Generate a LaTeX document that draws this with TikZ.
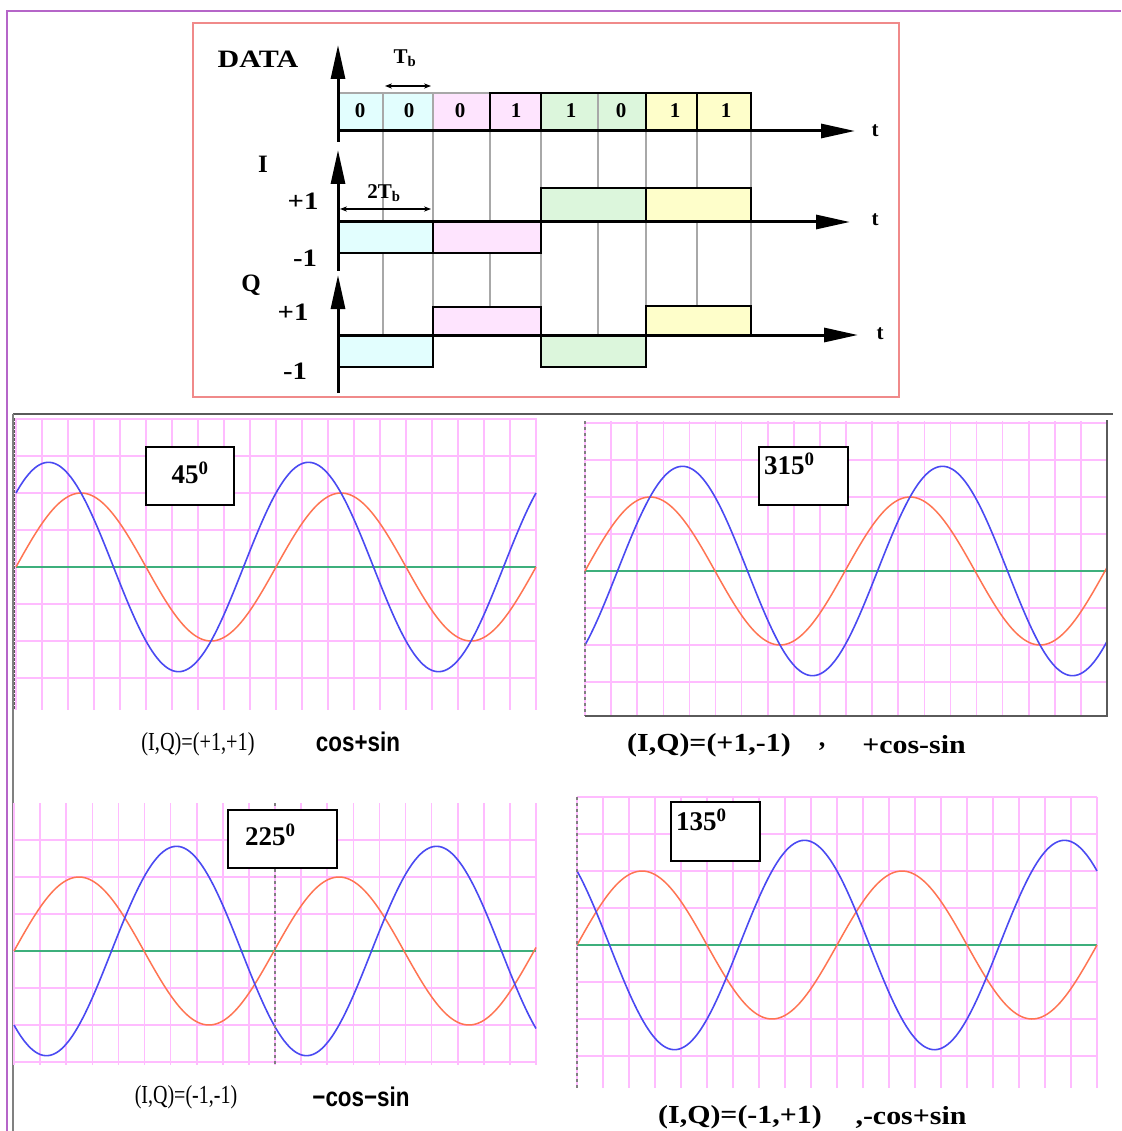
\documentclass[tikz,border=0pt]{standalone}
\usepackage{fontspec}
\setmainfont{Liberation Serif}
\setsansfont{Liberation Sans}
\usepackage{graphicx}
\usetikzlibrary{arrows.meta}
\definecolor{FrameViolet}{HTML}{B565C8}
\definecolor{BoxRed}{HTML}{F08A8A}
\definecolor{BitCyan}{HTML}{E2FEFE}
\definecolor{BitPink}{HTML}{FEE4FE}
\definecolor{BitGreen}{HTML}{DCF6DC}
\definecolor{BitYellow}{HTML}{FEFECA}
\definecolor{GridPink}{HTML}{FFBCFF}
\definecolor{WaveBlue}{HTML}{4A4AF2}
\definecolor{WaveOrange}{HTML}{FF7452}
\definecolor{WaveAxis}{HTML}{3DAF7C}
\definecolor{FrameGray}{HTML}{5A5A5A}
\definecolor{TickGray}{HTML}{A8A8A8}

\begin{document}
\begin{tikzpicture}[x=1pt,y=-1pt,>=Stealth,
  axis/.style={line width=3pt,-{Triangle[length=34pt,width=14pt]}},
  sig/.style={draw=black,line width=2pt},
  tick/.style={TickGray,line width=1.3pt},
  grd/.style={GridPink,line width=1.6pt},
  lbl/.style={font=\bfseries\fontsize{25}{25}\selectfont,inner sep=0pt},
  bit/.style={font=\bfseries\fontsize{21}{21}\selectfont,inner sep=0pt},
  degbox/.style={draw=black,line width=1.5pt,fill=white,inner sep=0pt},
  deg/.style={font=\bfseries\fontsize{27}{27}\selectfont,inner sep=0pt},
  captxt/.style={font=\fontsize{26}{26}\selectfont,inner sep=0pt},
  capbf/.style={font=\bfseries\fontsize{26}{26}\selectfont,inner sep=0pt},
  capsf/.style={font=\sffamily\bfseries\fontsize{27}{27}\selectfont,inner sep=0pt}]
  \fill[white] (0,0) rectangle (1121,1131);
  \useasboundingbox (0,0) rectangle (1121,1131);
  \draw[FrameViolet,line width=2.5pt] (7,1131) -- (7,11) -- (1121,11);
  \draw[BoxRed,line width=2pt] (193,23) rectangle (899,397);

  % bit cells
  \foreach \xa/\xb/\c in {338/383/BitCyan,383/433/BitCyan,433/490/BitPink,490/541/BitPink,
                          541/598/BitGreen,598/646/BitGreen,646/697/BitYellow,697/751/BitYellow}
    \fill[\c] (\xa,93) rectangle (\xb,131);
  \draw[tick] (338,93) -- (490,93);
  \foreach \xg in {383,433,490,541,598,646,697,751}
    \draw[tick] (\xg,93) -- (\xg,335);

  % I and Q levels
  \draw[sig,fill=BitCyan] (338,222) rectangle (433,253);
  \draw[sig,fill=BitPink] (433,222) rectangle (541,253);
  \draw[sig,fill=BitGreen] (541,188) rectangle (646,222);
  \draw[sig,fill=BitYellow] (646,188) rectangle (751,222);
  \draw[sig,fill=BitCyan] (338,335) rectangle (433,367);
  \draw[sig,fill=BitPink] (433,307) rectangle (541,335);
  \draw[sig,fill=BitGreen] (541,335) rectangle (646,367);
  \draw[sig,fill=BitYellow] (646,306) rectangle (751,335);
  \draw[sig] (490,131) -- (490,93) -- (751,93) -- (751,131);
  \foreach \xg in {541,646,697}
    \draw[sig] (\xg,93) -- (\xg,131);

  % axes
  \coordinate (dataO) at (338,131);
  \coordinate (dataTop) at (338,45);
  \coordinate (dataEnd) at (855,131);
  \coordinate (iO) at (338,222);
  \coordinate (iTop) at (338,150);
  \coordinate (iEnd) at (850,222);
  \coordinate (qO) at (338,335);
  \coordinate (qTop) at (338,275);
  \coordinate (qEnd) at (858,335);
  \draw[axis] (338,142) -- (dataTop);
  \draw[axis] (dataO) -- (dataEnd);
  \draw[axis] (338,271) -- (iTop);
  \draw[axis] (iO) -- (iEnd);
  \draw[axis] (338,393) -- (qTop);
  \draw[axis] (qO) -- (qEnd);

  \coordinate (tbL) at (385,86);
  \coordinate (tbR) at (431,86);
  \coordinate (ttbL) at (340,209);
  \coordinate (ttbR) at (431,209);
  \draw[{Stealth[length=7pt]}-{Stealth[length=7pt]},line width=1.3pt] (tbL) -- (tbR);
  \draw[{Stealth[length=7pt]}-{Stealth[length=7pt]},line width=1.3pt] (ttbL) -- (ttbR);

  \node[lbl] (datalab) at (258,59) {\scalebox{1.2}[1]{DATA}};
  \node[lbl,font=\bfseries\fontsize{21}{21}\selectfont] (tblab) at (405,58) {T\textsubscript{b}};
  \node[lbl,font=\bfseries\fontsize{21}{21}\selectfont] (ttblab) at (384,193) {2T\textsubscript{b}};
  \node[lbl] (ilab) at (263,164) {I};
  \node[lbl] (qlab) at (251,285) {Q};
  \node[lbl] (ip) at (303,201) {\scalebox{1.15}[1]{+1}};
  \node[lbl] (im) at (305,258) {\scalebox{1.15}[1]{-1}};
  \node[lbl] (qp) at (293,312) {\scalebox{1.15}[1]{+1}};
  \node[lbl] (qm) at (295,371) {\scalebox{1.15}[1]{-1}};
  \node[bit] (tdata) at (875,131) {t};
  \node[bit] (ti) at (875,220) {t};
  \node[bit] (tq) at (880,334) {t};
  \foreach \xc/\b [count=\n] in {360/0,409/0,460/0,516/1,571/1,621/0,675/1,726/1}
    \node[bit] (bit\n) at (\xc,111) {\b};

  % four carrier plots
  \draw[FrameGray,line width=2.5pt] (13,414) -- (1113,414);
  \draw[gray,line width=1.5pt] (13,414) -- (13,1131);
  \draw[FrameGray,line width=2pt,dash pattern=on 3pt off 1pt] (15,418) -- (15,710);
  \foreach \px/\pw/\ptop/\pax/\pbot/\kmin/\ph in
      {16/520/418/567/710/-4/45, 585/522/421/571/716/-4/315,
       14/522/803/951/1065/-3/225, 577/520/797/945/1088/-4/135}{
    \foreach \i in {0,...,20}
      \draw[grd] ({\px+\pw*\i/20},\ptop) -- ({\px+\pw*\i/20},\pbot);
    \foreach \k in {\kmin,...,3}
      \draw[grd] (\px,{\pax+37*\k}) -- ({\px+\pw},{\pax+37*\k});
    \draw[WaveAxis,line width=2pt] (\px,\pax) -- ({\px+\pw},\pax);
    \draw[WaveOrange,line width=1.5pt] plot[domain=0:\pw,samples=200,smooth]
      ({\px+\x},{\pax-74*sin(1.3846*\x)});
    \draw[WaveBlue,line width=1.6pt] plot[domain=0:\pw,samples=200,smooth]
      ({\px+\x},{\pax-104.7*sin(1.3846*\x+\ph)});
  }
  \draw[gray,line width=1.3pt,dashed] (585,421) -- (585,716);
  \draw[FrameGray,line width=2.5pt] (585,716) -- (1107,716) -- (1107,420);
  \draw[gray,line width=1.3pt,dashed] (275,803) -- (275,1065);
  \draw[gray,line width=1.3pt,dashed] (577,797) -- (577,1088);

  \node[degbox,minimum width=88pt,minimum height=58pt] (box45) at (190,476) {};
  \node[deg] (deg45) at (190,473) {45\textsuperscript{0}};
  \node[degbox,minimum width=89pt,minimum height=58pt] (box315) at (803.5,476) {};
  \node[deg,anchor=north west] (deg315) at (764,453) {315\textsuperscript{0}};
  \node[degbox,minimum width=109pt,minimum height=58pt] (box225) at (282.5,839) {};
  \node[deg,anchor=north west] (deg225) at (245,824) {225\textsuperscript{0}};
  \node[degbox,minimum width=89pt,minimum height=59pt] (box135) at (715.5,831.5) {};
  \node[deg,anchor=north west] (deg135) at (676,809) {135\textsuperscript{0}};

  \node[captxt] (cap45a) at (198,744) {\scalebox{0.78}[1]{(I,Q)=(+1,+1)}};
  \node[capsf] (cap45b) at (358,742) {\scalebox{0.83}[1]{cos+sin}};
  \node[capbf] (cap315a) at (709,745) {\scalebox{1.15}[1]{(I,Q)=(+1,-1)}};
  \node[capbf] (cap315b) at (822,747) {,};
  \node[capbf] (cap315c) at (914,745) {\scalebox{1.15}[1]{+cos-sin}};
  \node[captxt] (cap225a) at (186,1097) {\scalebox{0.77}[1]{(I,Q)=(-1,-1)}};
  \node[capsf] (cap225b) at (361,1097) {\scalebox{0.83}[1]{−cos−sin}};
  \node[capbf] (cap135a) at (740,1117) {\scalebox{1.15}[1]{(I,Q)=(-1,+1)}};
  \node[capbf] (cap135b) at (911,1117) {\scalebox{1.15}[1]{,-cos+sin}};
\end{tikzpicture}
\end{document}
